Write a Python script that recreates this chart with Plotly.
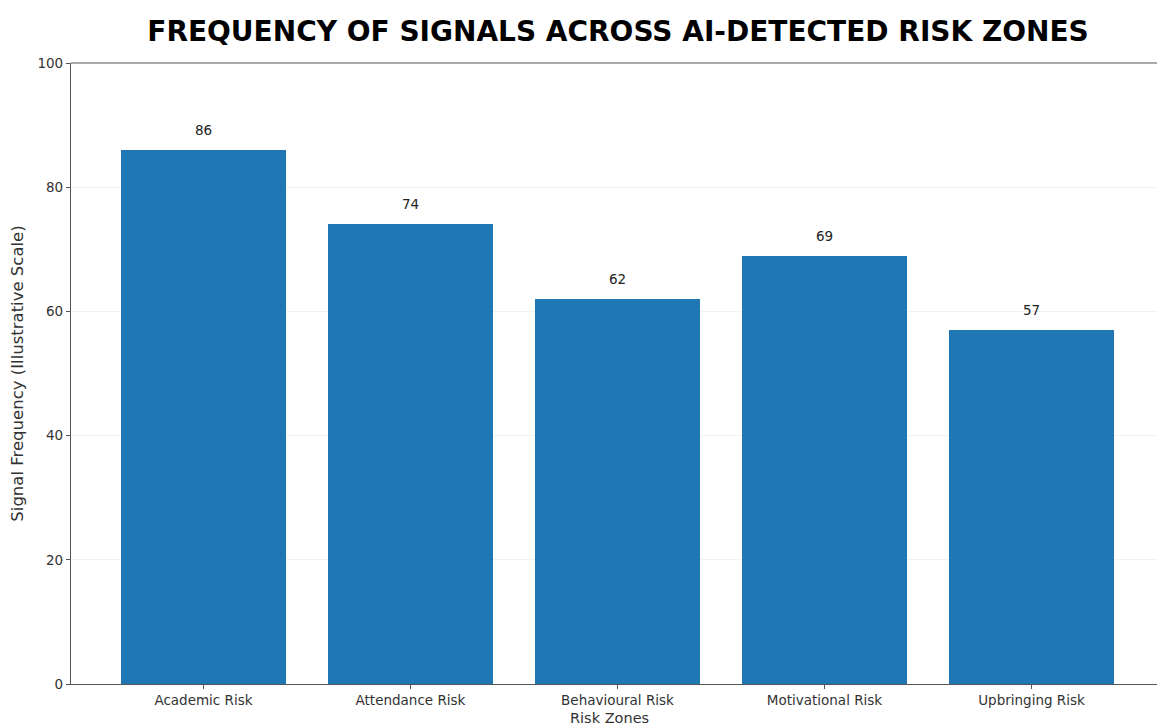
import plotly.graph_objects as go

categories = ["Academic Risk", "Attendance Risk", "Behavioural Risk", "Motivational Risk", "Upbringing Risk"]
values = [86, 74, 62, 69, 57]
y_ticks = [0, 20, 40, 60, 80, 100]

W, H = 1157, 724
L, T, B = 71, 63, 40
plot_w = W - L
plot_h = H - T - B
unit_px = 207.0
x0 = -0.64
x1 = x0 + plot_w / unit_px

font = "DejaVu Sans"
fig = go.Figure()
fig.add_trace(go.Bar(
    x=list(range(len(categories))), y=values, width=0.8,
    marker=dict(color="#1f77b4", line=dict(width=0)),
))
for i, v in enumerate(values):
    fig.add_annotation(x=i, y=v, xref="x", yref="y", text=str(v), showarrow=False,
                       yanchor="bottom", yshift=10,
                       font=dict(family=font, size=13.5, color="#222"))
fig.update_layout(
    width=W, height=H,
    margin=dict(l=L, r=0, t=T, b=B, pad=0),
    paper_bgcolor="white", plot_bgcolor="white",
    showlegend=False, bargap=0,
    title=dict(text="<b>FREQUENCY OF SIGNALS ACROSS AI-DETECTED RISK ZONES</b>",
               x=(148 + 1088) / 2 / W, xanchor="center", y=1 - 31 / H, yanchor="middle",
               font=dict(family=font, size=28, color="black")),
    font=dict(family=font, size=13.5, color="#333"),
)
fig.update_xaxes(
    range=[x0, x1], tickmode="array", tickvals=list(range(len(categories))), ticktext=categories,
    showline=True, linecolor="#555", linewidth=1.2, mirror=False,
    ticks="outside", ticklen=4, tickcolor="#555", showgrid=False, zeroline=False,
    tickfont=dict(family=font, size=13.5, color="#333"),
)
fig.update_yaxes(
    range=[0, 100], tickvals=y_ticks, ticks="outside", ticklen=4, tickcolor="#555",
    showline=True, linecolor="#555", linewidth=1.2, mirror=False,
    showgrid=True, gridcolor="rgba(0,0,0,0.05)", gridwidth=1, zeroline=False,
    tickfont=dict(family=font, size=13.5, color="#333"),
    title=dict(text="Signal Frequency (Illustrative Scale)", standoff=9,
               font=dict(family=font, size=16.5, color="#333")),
)
# top spine
fig.add_shape(type="line", xref="paper", yref="paper", x0=0, x1=1, y0=1, y1=1,
              line=dict(color="#555", width=1.2))
# x axis title, partially cut off at bottom like the reference
fig.add_annotation(text="Risk Zones", xref="x", yref="paper",
                   x=(x0 + x1) / 2 - 0.02, y=-(718 - 684) / plot_h, yanchor="middle",
                   showarrow=False, font=dict(family=font, size=14.5, color="#333"))
fig.write_html("out.html")
